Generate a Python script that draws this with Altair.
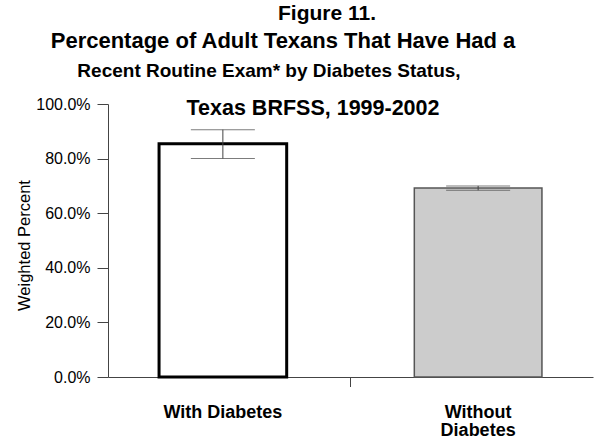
import altair as alt
import pandas as pd

# Survey results: share with a routine check-up, with 95% confidence limits
categories = ["With Diabetes", "Without Diabetes"]
percent = [85.4, 69.2]
ci_low = [80.0, 68.4]
ci_high = [90.6, 70.0]
y_ticks = [0, 20, 40, 60, 80, 100]
bar_fills = ["#ffffff", "#cccccc"]
bar_strokes = ["#000000", "#555555"]

title_lines = [
    "Figure 11.",
    "Percentage of Adult Texans That Have Had a",
    "Recent Routine Exam* by Diabetes Status,",
    "Texas BRFSS, 1999-2002",
]
y_title = "Weighted Percent"

FONT = "Liberation Sans"
W, H = 485, 273

df = pd.DataFrame({
    "group": categories,
    "pct": percent,
    "lo": ci_low,
    "hi": ci_high,
})

x_enc = alt.X(
    "group:N",
    sort=categories,
    scale=alt.Scale(paddingInner=0.5, paddingOuter=0.2),
    axis=alt.Axis(
        title=None,
        ticks=False,
        domainColor="#444444",
        domainWidth=1,
        labelAngle=0,
        labelFont=FONT,
        labelFontSize=18,
        labelFontWeight="bold",
        labelColor="#000000",
        labelBaseline="top",
        labelPadding=26,
        labelLineHeight=18.5,
        labelExpr="datum.label == 'Without Diabetes' ? ['Without', 'Diabetes'] : datum.label",
    ),
)

y_scale = alt.Scale(domain=[0, 100], nice=False)

bars = alt.Chart(df).mark_bar().encode(
    x=x_enc,
    y=alt.Y(
        "pct:Q",
        scale=y_scale,
        axis=alt.Axis(
            values=y_ticks,
            labelExpr="format(datum.value, '.1f') + '%'",
            title=y_title,
            titleFont=FONT,
            titleFontSize=16.5,
            titleFontWeight="normal",
            titleColor="#000000",
            titleAngle=270,
            titleX=-84,
            titleY=141,
            titleAlign="center",
            titleBaseline="middle",
            labelFont=FONT,
            labelFontSize=16,
            labelColor="#000000",
            labelPadding=7,
            tickSize=11,
            tickColor="#444444",
            domainColor="#444444",
            grid=False,
        ),
    ),
    fill=alt.Fill("group:N", scale=alt.Scale(domain=categories, range=bar_fills), legend=None),
    stroke=alt.Stroke("group:N", scale=alt.Scale(domain=categories, range=bar_strokes), legend=None),
    strokeWidth=alt.StrokeWidth("group:N", scale=alt.Scale(domain=categories, range=[3, 1.5]), legend=None),
)

err_line = alt.Chart(df).mark_rule(color="#444444", strokeWidth=1).encode(
    x=alt.X("group:N", sort=categories),
    y=alt.Y("lo:Q", scale=y_scale),
    y2="hi:Q",
)

cap_lo = alt.Chart(df).mark_tick(color="#444444", thickness=1, size=64, orient="horizontal").encode(
    x=alt.X("group:N", sort=categories),
    y=alt.Y("lo:Q", scale=y_scale),
)
cap_hi = alt.Chart(df).mark_tick(color="#444444", thickness=1, size=64, orient="horizontal").encode(
    x=alt.X("group:N", sort=categories),
    y=alt.Y("hi:Q", scale=y_scale),
)

one = alt.Data(values=[{}])

# small separator tick under the category axis
mid_tick = alt.Chart(one).mark_rule(color="#444444", strokeWidth=1).encode(
    x=alt.value(W / 2), y=alt.value(H), y2=alt.value(H + 10)
)

# multi-line heading, each line placed on its own
title_specs = [
    (title_lines[0], 219, -84, 21),
    (title_lines[1], 175, -56, 22),
    (title_lines[2], 161, -27, 19),
    (title_lines[3], 205, 11, 21.5),
]
title_layers = [
    alt.Chart(one).mark_text(
        font=FONT, fontWeight="bold", fontSize=size, align="center",
        baseline="alphabetic", color="#000000",
    ).encode(x=alt.value(x), y=alt.value(y), text=alt.value(txt))
    for txt, x, y, size in title_specs
]

chart = alt.layer(bars, err_line, cap_lo, cap_hi, mid_tick, *title_layers).properties(
    width=W,
    height=H,
    autosize=alt.AutoSizeParams(type="none"),
    padding={"left": 108, "top": 104, "right": 2, "bottom": 63},
    background="#ffffff",
).configure_view(stroke=None)

chart.save("out.html", embed_options={"renderer": "svg", "actions": False})
